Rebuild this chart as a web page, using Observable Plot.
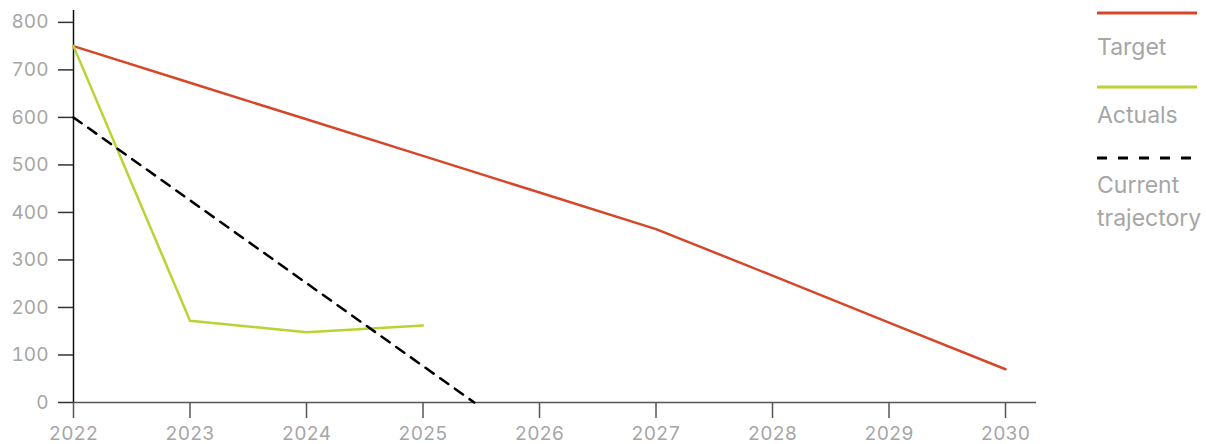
<!DOCTYPE html>
<html>
<head>
<meta charset="utf-8">
<script src="https://cdn.jsdelivr.net/npm/d3@7"></script>
<script src="https://cdn.jsdelivr.net/npm/@observablehq/plot@0.6"></script>
<style>
  html, body { margin: 0; padding: 0; background: #fff; }
  body { width: 1206px; height: 444px; overflow: hidden; font-family: Inter, "Noto Sans", sans-serif; }
  #wrap { position: relative; width: 1206px; height: 444px; }
  #chart { position: absolute; left: 0; top: 0; }
  #legend { position: absolute; left: 1097px; top: 0; width: 109px; }
  .swatch { position: absolute; left: 0; width: 100px; height: 4px; display: block; }
  .lab { position: absolute; left: 0; color: #a6a6a6; font-size: 23px; line-height: 33px; white-space: nowrap; }
</style>
</head>
<body>
<div id="wrap">
  <div id="chart"></div>
  <div id="legend"></div>
</div>
<script>
const years = [2022, 2023, 2024, 2025, 2026, 2027, 2028, 2029, 2030];
const targetValues = [750, 673, 596, 519, 442, 365, 267, 168, 70];
const actualYears = [2022, 2023, 2024, 2025];
const actualValues = [750, 172, 148, 162];
const trajectoryYears = [2022, 2025.44];
const trajectoryValues = [600, 0];
const yTicks = [0, 100, 200, 300, 400, 500, 600, 700, 800];
const seriesNames = ["Target", "Actuals", "Current trajectory"];
const seriesColors = ["#d6472a", "#b8d433", "#000000"];

const target = years.map((x, i) => ({x, y: targetValues[i]}));
const actual = actualYears.map((x, i) => ({x, y: actualValues[i]}));
const traj = trajectoryYears.map((x, i) => ({x, y: trajectoryValues[i]}));

const plot = Plot.plot({
  width: 1080,
  height: 444,
  marginLeft: 73,
  marginRight: 44,
  marginTop: 10,
  marginBottom: 42,
  style: { fontFamily: "Inter, 'Noto Sans', sans-serif", fontSize: "19px", color: "#a6a6a6", background: "transparent", overflow: "visible" },
  x: { domain: [2022, 2030.266], ticks: years, tickFormat: d => String(d), label: null },
  y: { domain: [0, 825], ticks: yTicks, label: null },
  marks: [
    Plot.ruleY([0], { stroke: "#555", strokeWidth: 1.5 }),
    Plot.ruleX([2022], { stroke: "#111", strokeWidth: 1.5 }),
    Plot.axisX({ ticks: years, tickFormat: d => String(d), tickSize: 16, tickPadding: 8, stroke: "#555", strokeWidth: 1.5, fill: "#a6a6a6", fontSize: 19, label: null }),
    Plot.axisY({ ticks: yTicks, tickSize: 15, tickPadding: 10, stroke: "#333", strokeWidth: 1.5, fill: "#a6a6a6", fontSize: 19, label: null }),
    Plot.line(target, { x: "x", y: "y", stroke: seriesColors[0], strokeWidth: 2.5 }),
    Plot.line(actual, { x: "x", y: "y", stroke: seriesColors[1], strokeWidth: 2.5 }),
    Plot.line(traj, { x: "x", y: "y", stroke: seriesColors[2], strokeWidth: 2.5, strokeDasharray: "10,8" })
  ]
});
document.getElementById("chart").appendChild(plot);

const legend = document.getElementById("legend");
const swatchY = [13, 87, 158];
const labelY = [31, 99, 169];
const NS = "http://www.w3.org/2000/svg";
seriesNames.forEach((name, i) => {
  const sw = document.createElementNS(NS, "svg");
  sw.setAttribute("class", "swatch");
  sw.setAttribute("width", "100");
  sw.setAttribute("height", "4");
  sw.style.top = (swatchY[i] - 2) + "px";
  const ln = document.createElementNS(NS, "line");
  ln.setAttribute("x1", "0"); ln.setAttribute("x2", "100");
  ln.setAttribute("y1", "2"); ln.setAttribute("y2", "2");
  ln.setAttribute("stroke", seriesColors[i]);
  ln.setAttribute("stroke-width", "3");
  if (i === 2) ln.setAttribute("stroke-dasharray", "10,11");
  sw.appendChild(ln);
  legend.appendChild(sw);
  const lab = document.createElement("div");
  lab.className = "lab";
  lab.style.top = labelY[i] + "px";
  lab.innerHTML = name === "Current trajectory" ? "Current<br>trajectory" : name;
  legend.appendChild(lab);
});
</script>
</body>
</html>
